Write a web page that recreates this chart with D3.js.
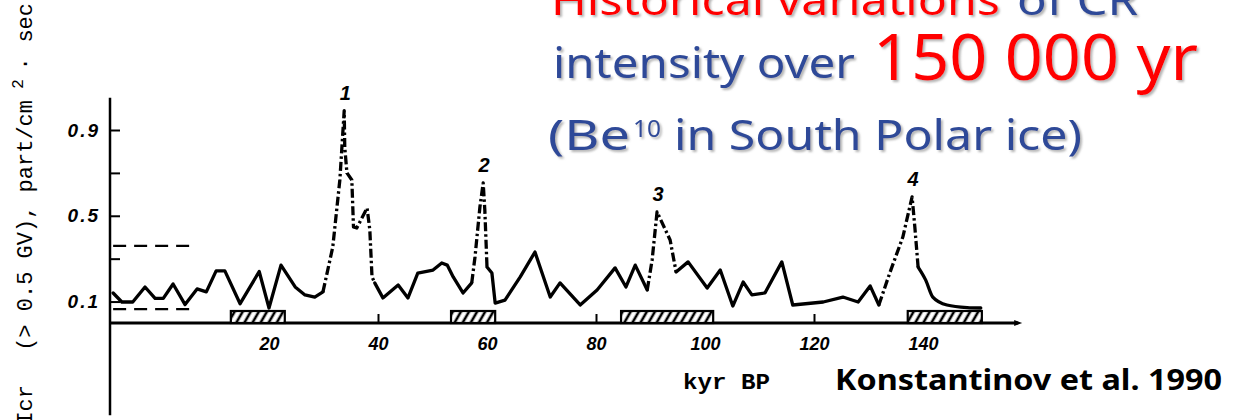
<!DOCTYPE html>
<html><head><meta charset="utf-8">
<script src="https://cdn.jsdelivr.net/npm/d3@7"></script>
<style>
html,body{margin:0;padding:0;background:#fff;overflow:hidden;}
svg{display:block;}
.tick text{font-family:"Liberation Sans",Arial,sans-serif;font-style:italic;font-weight:bold;font-size:18px;fill:#000;}
</style></head><body>
<svg id="chart" width="1245" height="420"></svg>
<script>
// Axis ticks (kyr BP and intensity)
const xTicks = [20, 40, 60, 80, 100, 120, 140];
const yTicks = [0.1, 0.3, 0.5, 0.7, 0.9];
const yTickLabels = [0.1, 0.5, 0.9];

// Intensity record, [kyr BP, part/cm2·sec]; solid stretches and dash-dot peaks
const solid0 = [[-8.6,0.14],[-7.0,0.098],[-5.0,0.098],[-2.75,0.168],[-0.9,0.115],[0.6,0.115],[2.4,0.182],[4.6,0.086],[6.8,0.159],[8.5,0.145],[10.3,0.243],[11.9,0.243],[14.7,0.09],[18.2,0.24],[20.0,0.07],[22.2,0.27],[24.8,0.168],[26.6,0.131],[28.4,0.121],[29.9,0.145]];
const peak1 = [[29.9,0.145],[31.7,0.354],[33.0,0.667],[33.8,0.99],[33.9,0.82],[34.3,0.70],[35.2,0.667],[35.5,0.448],[36.1,0.443],[38.0,0.536],[38.5,0.434],[38.9,0.215],[39.4,0.187]];
const solid1 = [[39.4,0.187],[40.9,0.117],[43.7,0.177],[45.5,0.117],[47.3,0.233],[50.1,0.247],[51.7,0.28],[52.7,0.27],[53.8,0.215],[55.6,0.14],[57.2,0.187]];
const peak2 = [[57.2,0.187],[57.8,0.308],[58.7,0.541],[59.3,0.653],[59.6,0.527],[60.0,0.261]];
const solid2 = [[60.0,0.261],[60.9,0.233],[61.5,0.093],[63.3,0.107],[66.1,0.215],[68.8,0.331],[71.6,0.121],[73.4,0.187],[77.1,0.084],[80.2,0.154],[83.5,0.257],[85.5,0.168],[87.2,0.27],[89.4,0.154]];
const peak3 = [[89.4,0.154],[90.3,0.294],[91.2,0.518],[93.6,0.387],[94.7,0.238]];
const solid3 = [[94.7,0.238],[96.9,0.285],[100.4,0.163],[102.8,0.247],[105.1,0.079],[107.0,0.191],[108.6,0.131],[111.0,0.14],[114.1,0.285],[116.1,0.084],[121.7,0.098],[125.3,0.121],[128.1,0.098],[130.3,0.173],[131.9,0.084]];
const peak4 = [[131.9,0.084],[133.9,0.233],[136.3,0.401],[138.0,0.588],[138.5,0.448],[139.1,0.261]];
const solid4 = [[139.1,0.261],[140.5,0.2],[141.8,0.121],[144.4,0.084],[148.1,0.072],[150.6,0.07]];

// Peak numbering
const peakLabels = ["1", "2", "3", "4"];
const peakKyr = [33.8, 59.3, 91.2, 138.0];
const peakVal = [0.99, 0.653, 0.518, 0.588];

// Reference levels near the present (dashed) and hatched intervals
const refLevels = [0.36, 0.065];
const refSpan = [-8.6, 6.4];
const intervalStart = [13.0, 53.4, 84.6, 137.2];
const intervalEnd = [22.9, 61.5, 101.5, 150.8];

const svg = d3.select("#chart");
const x = d3.scaleLinear().domain([0, 140]).range([160, 923]);
const y = d3.scaleLinear().domain([0, 0.9]).range([323, 130]);
const xAxisFrom = -9.2, xAxisTo = 158.2;
const yAxisTop = 1.05, yAxisBottom = -0.43;

const defs = svg.append("defs");
const pat = defs.append("pattern").attr("id", "hatch")
  .attr("patternUnits", "userSpaceOnUse").attr("width", 7).attr("height", 12)
  .attr("patternTransform", "rotate(30)");
pat.append("rect").attr("width", 7).attr("height", 12).attr("fill", "#fff");
pat.append("line").attr("x1", 2).attr("x2", 2).attr("y1", 0).attr("y2", 12)
  .attr("stroke", "#000").attr("stroke-width", 2.6);
const sh = defs.append("filter").attr("id", "shadow").attr("x", "-5%").attr("y", "-20%").attr("width", "110%").attr("height", "140%");
sh.append("feDropShadow").attr("dx", 2).attr("dy", 2).attr("stdDeviation", 1)
  .attr("flood-color", "#777").attr("flood-opacity", 0.55);

// Title
const title = svg.append("g").attr("filter", "url(#shadow)")
  .style("font-family", "'Noto Sans', 'Open Sans', sans-serif");
function titleText(txt, x0, yb, len, size, color) {
  title.append("text").attr("x", x0).attr("y", yb)
    .attr("textLength", len).attr("lengthAdjust", "spacingAndGlyphs")
    .style("font-size", size + "px").style("fill", color).text(txt);
}
const RED = "#ff0000", BLUE = "#2f4a98";
titleText("Historical variations", 551, 15, 449, 42, RED);
titleText("of CR", 1017, 15, 121, 42, BLUE);
titleText("intensity over", 553, 78, 302, 42, BLUE);
titleText("150 000 yr", 873, 80, 325, 64, RED);
titleText("(Be", 548, 150, 82, 42, BLUE);
titleText("10", 633, 137, 28, 24, BLUE);
titleText("in South Polar ice)", 674, 150, 408, 42, BLUE);

// Axes
const axisX = svg.append("g").attr("transform", `translate(0,${y(0)})`)
  .call(d3.axisBottom(x).tickValues(xTicks).tickSizeInner(-9).tickSizeOuter(0).tickPadding(14));
axisX.select(".domain").remove();
axisX.selectAll(".tick line").attr("stroke", "#000").attr("stroke-width", 2);

const yFmt = d3.format(".1f");
const axisY = svg.append("g").attr("transform", `translate(110,0)`)
  .call(d3.axisLeft(y).tickValues(yTicks).tickSizeInner(-10).tickSizeOuter(0).tickPadding(10)
    .tickFormat(d => yTickLabels.includes(d) ? yFmt(d) : ""));
axisY.select(".domain").remove();
axisY.selectAll(".tick line").attr("stroke", "#000").attr("stroke-width", 2);
axisY.selectAll(".tick text").style("letter-spacing", "2px").style("font-size", "19px");

svg.append("line").attr("x1", 110).attr("x2", 110)
  .attr("y1", y(yAxisTop)).attr("y2", y(yAxisBottom))
  .attr("stroke", "#000").attr("stroke-width", 2.5);
svg.append("line").attr("x1", x(xAxisFrom)).attr("x2", x(xAxisTo) - 4)
  .attr("y1", y(0)).attr("y2", y(0)).attr("stroke", "#000").attr("stroke-width", 3);
svg.append("path")
  .attr("d", `M${x(xAxisTo) - 8},${y(0) - 3} L${x(xAxisTo)},${y(0)} L${x(xAxisTo) - 8},${y(0) + 3} Z`)
  .attr("fill", "#000");

// Hatched intervals resting on the time axis
svg.selectAll("rect.interval").data(intervalStart).join("rect").attr("class", "interval")
  .attr("x", (d) => x(d)).attr("width", (d, i) => x(intervalEnd[i]) - x(d))
  .attr("y", y(0) - 12).attr("height", 12)
  .attr("fill", "url(#hatch)").attr("stroke", "#000").attr("stroke-width", 2.2);

// Dashed reference levels
svg.selectAll("line.ref").data(refLevels).join("line").attr("class", "ref")
  .attr("x1", x(refSpan[0])).attr("x2", x(refSpan[1]))
  .attr("y1", d => y(d)).attr("y2", d => y(d))
  .attr("stroke", "#000").attr("stroke-width", 2.2).attr("stroke-dasharray", "13,8");

// Intensity curve
const line = d3.line().x(d => x(d[0])).y(d => y(d[1]));
const segments = [
  {pts: solid0, dash: false}, {pts: peak1, dash: true}, {pts: solid1, dash: false},
  {pts: peak2, dash: true}, {pts: solid2, dash: false}, {pts: peak3, dash: true},
  {pts: solid3, dash: false}, {pts: peak4, dash: true}, {pts: solid4, dash: false, smooth: true}
];
svg.selectAll("path.seg").data(segments).join("path").attr("class", "seg")
  .attr("d", d => (d.smooth ? line.curve(d3.curveMonotoneX) : line.curve(d3.curveLinear))(d.pts))
  .attr("fill", "none").attr("stroke", "#000")
  .attr("stroke-width", 3.3)
  .attr("stroke-linejoin", "round")
  .attr("stroke-linecap", d => d.dash ? "butt" : "round")
  .attr("stroke-dasharray", d => d.dash ? "9,3,2.5,3" : null);

// Peak numbers
svg.selectAll("text.peak").data(peakLabels).join("text").attr("class", "peak")
  .attr("x", (d, i) => x(peakKyr[i]) + 1).attr("y", (d, i) => y(peakVal[i]) - 11)
  .attr("text-anchor", "middle")
  .style("font-family", "'Liberation Sans', Arial, sans-serif")
  .style("font-style", "italic").style("font-weight", "bold").style("font-size", "20px")
  .text(d => d);

// Axis titles
svg.append("text").attr("x", 683).attr("y", 389)
  .attr("textLength", 87).attr("lengthAdjust", "spacingAndGlyphs")
  .style("font-family", "'Liberation Mono', monospace").style("font-size", "22px")
  .style("font-weight", "bold")
  .text("kyr BP");

const yl = svg.append("g").attr("transform", "translate(32,0) rotate(-90)")
  .style("font-family", "'Liberation Mono', monospace").style("font-size", "22px");
yl.append("text").attr("x", -385).attr("y", 0).attr("text-anchor", "end").text("Icr");
yl.append("text").attr("x", -100).attr("y", 0).attr("text-anchor", "end")
  .text("(> 0.5 GV), part/cm");
yl.append("text").attr("x", -84).attr("y", -9).attr("text-anchor", "middle")
  .style("font-size", "16px").text("2");
yl.append("text").attr("x", -64).attr("y", 0).attr("text-anchor", "middle").text("·");
yl.append("text").attr("x", -3).attr("y", 0).attr("text-anchor", "end").text("sec");

// Source
svg.append("text").attr("x", 835).attr("y", 390)
  .attr("textLength", 387).attr("lengthAdjust", "spacingAndGlyphs")
  .style("font-family", "'Noto Sans', 'Open Sans', sans-serif")
  .style("font-weight", "bold").style("font-size", "29px")
  .text("Konstantinov et al. 1990");
</script></body></html>
